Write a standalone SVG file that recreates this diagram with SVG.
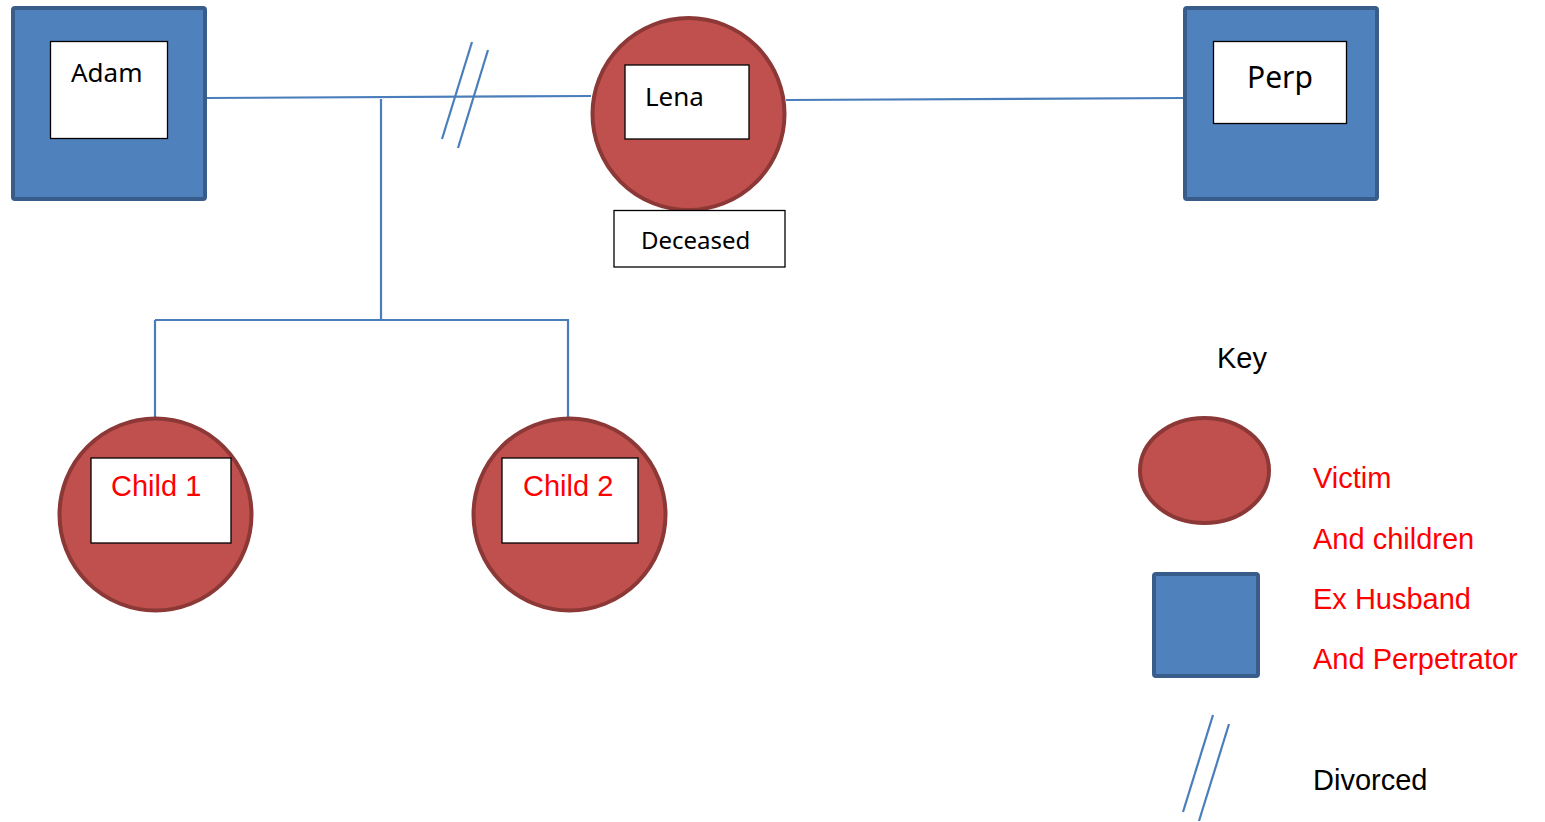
<svg xmlns="http://www.w3.org/2000/svg" width="1545" height="822" viewBox="0 0 1545 822">
<style>
.sq{fill:#4f81bd;stroke:#385d8a;stroke-width:4}
.ci{fill:#c0504d;stroke:#8c3836;stroke-width:4}
.box{fill:#fff;stroke:#000;stroke-width:1.3}
.ln{stroke:#4a7ebb;stroke-width:2.2;fill:none}
.cal{font-family:"Noto Sans","Open Sans",sans-serif;fill:#000}
.ar{font-family:"Liberation Sans",Arial,sans-serif;font-size:29px}
.red{fill:#ff0000}
</style>
<rect width="1545" height="822" fill="#fff"/>
<g id="connectors">
<line class="ln" x1="207" y1="98" x2="591" y2="96"/>
<line class="ln" x1="786" y1="100" x2="1183" y2="98"/>
<line class="ln" x1="381" y1="99" x2="381" y2="320"/>
<line class="ln" x1="155" y1="320" x2="568" y2="320"/>
<line class="ln" x1="155" y1="320" x2="155" y2="417"/>
<line class="ln" x1="568" y1="319" x2="568" y2="417"/>
<line class="ln" x1="472" y1="42" x2="442" y2="139"/>
<line class="ln" x1="488" y1="50" x2="458" y2="148"/>
</g>
<g id="adam">
<rect class="sq" x="13" y="8" width="192" height="191" rx="2"/>
<rect class="box" x="50.5" y="41.5" width="117" height="97"/>
<text class="cal" x="71" y="82" font-size="26">Adam</text>
</g>
<g id="lena">
<circle class="ci" cx="688.5" cy="114" r="96"/>
<rect class="box" x="625" y="65" width="124" height="74"/>
<text class="cal" x="645" y="106" font-size="26">Lena</text>
</g>
<g id="deceased">
<rect class="box" x="614" y="210.5" width="171" height="56.5"/>
<text class="cal" x="641" y="249" font-size="24">Deceased</text>
</g>
<g id="perp">
<rect class="sq" x="1185" y="8" width="192" height="191" rx="2"/>
<rect class="box" x="1213.5" y="41.5" width="133" height="82"/>
<text class="cal" x="1247" y="88" font-size="30">Perp</text>
</g>
<g id="child1">
<circle class="ci" cx="155.5" cy="514.5" r="96"/>
<rect class="box" x="91" y="458" width="140" height="85"/>
<text class="ar red" x="111" y="496" font-size="28.5">Child 1</text>
</g>
<g id="child2">
<circle class="ci" cx="569.5" cy="514.5" r="96"/>
<rect class="box" x="502" y="458" width="136" height="85"/>
<text class="ar red" x="523" y="496" font-size="28.5">Child 2</text>
</g>
<g id="key">
<text class="ar" x="1217" y="368">Key</text>
<ellipse class="ci" cx="1204.5" cy="470.5" rx="64.5" ry="52.5"/>
<text class="ar red" x="1313" y="488">Victim</text>
<text class="ar red" x="1313" y="549">And children</text>
<text class="ar red" x="1313" y="609">Ex Husband</text>
<text class="ar red" x="1313" y="669">And Perpetrator</text>
<rect class="sq" x="1154" y="574" width="104" height="102" rx="2"/>
<line class="ln" x1="1213" y1="715" x2="1183" y2="812"/>
<line class="ln" x1="1229" y1="724" x2="1199" y2="821"/>
<text class="ar" x="1313" y="790">Divorced</text>
</g>
</svg>
